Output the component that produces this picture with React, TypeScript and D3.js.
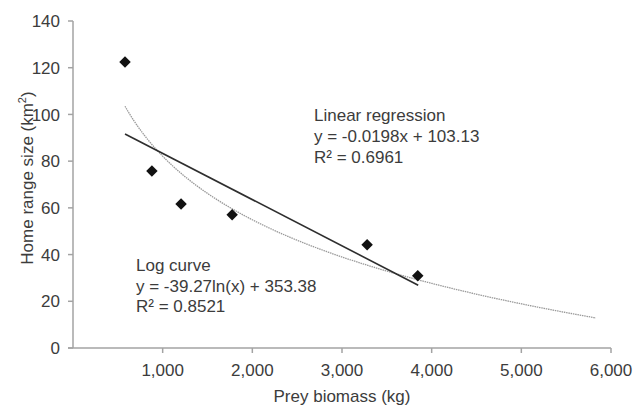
import { useMemo } from "react";
import * as d3 from "d3";

const preyBiomass = [580, 880, 1205, 1775, 3280, 3845];
const homeRange = [122.4, 75.8, 61.7, 57.0, 44.2, 30.9];

// fitted trendlines as printed on the chart
const linearCoef = [-0.0198, 103.13];
const logCoef = [-39.27, 353.38];
const linearSpan = [580, 3850];
const logSpan = [580, 5850];

const xTicks = [1000, 2000, 3000, 4000, 5000, 6000];
const yTicks = [0, 20, 40, 60, 80, 100, 120, 140];

const linearLabel = ["Linear regression", "y = -0.0198x + 103.13", "R² = 0.6961"];
const logLabel = ["Log curve", "y = -39.27ln(x) + 353.38", "R² = 0.8521"];

const W = 643;
const H = 407;
const font = "'Liberation Sans', Arial, sans-serif";

export default function App() {
  const x = d3.scaleLinear().domain([0, 6000]).range([73, 611]);
  const y = d3.scaleLinear().domain([0, 140]).range([348, 21]);

  const { linPath, logPath } = useMemo(() => {
    const line = d3
      .line<[number, number]>()
      .x((d) => x(d[0]))
      .y((d) => y(d[1]));
    const lin: [number, number][] = linearSpan.map((v) => [v, linearCoef[0] * v + linearCoef[1]]);
    const logPts: [number, number][] = d3
      .range(logSpan[0], logSpan[1] + 1, 25)
      .map((v) => [v, logCoef[0] * Math.log(v) + logCoef[1]]);
    return { linPath: line(lin) ?? "", logPath: line(logPts) ?? "" };
  }, []);

  const diamond = d3.symbol(d3.symbolSquare, 66)() ?? "";

  return (
    <svg
      width={W}
      height={H}
      viewBox={`0 0 ${W} ${H}`}
      style={{ position: "absolute", left: 0, top: 0, background: "#fff" }}
      fontFamily={font}
    >
      {/* axes */}
      <g stroke="#a3a3a3" strokeWidth={1.5} fill="none">
        <line x1={x(0)} x2={x(0)} y1={y(140)} y2={y(0)} />
        <line x1={x(0) - 5} x2={x(6000)} y1={y(0)} y2={y(0)} />
        {yTicks.map((t) => (
          <line key={t} x1={x(0) - 5} x2={x(0)} y1={y(t)} y2={y(t)} />
        ))}
        {xTicks.map((t) => (
          <line key={t} x1={x(t)} x2={x(t)} y1={y(0)} y2={y(0) + 5} />
        ))}
      </g>
      <g fill="#3c3c3c" fontSize={17}>
        {yTicks.map((t) => (
          <text key={t} x={x(0) - 13} y={y(t)} dy="0.36em" textAnchor="end">
            {t}
          </text>
        ))}
        {xTicks.map((t) => (
          <text key={t} x={x(t)} y={y(0) + 28} textAnchor="middle">
            {d3.format(",")(t)}
          </text>
        ))}
        <text x={342} y={402} textAnchor="middle">
          Prey biomass (kg)
        </text>
        <text transform={`translate(33,${178}) rotate(-90)`} textAnchor="middle">
          Home range size (km
          <tspan fontSize={11} dy={-7}>2</tspan>
          <tspan dy={7}>)</tspan>
        </text>
      </g>

      {/* trendlines */}
      <path d={logPath} fill="none" stroke="#9a9a9a" strokeWidth={1.3} strokeDasharray="1.5 0.8" />
      <path d={linPath} fill="none" stroke="#2e2e2e" strokeWidth={1.6} />

      {/* points */}
      {preyBiomass.map((v, i) => (
        <path
          key={v}
          d={diamond}
          transform={`translate(${x(v)},${y(homeRange[i])}) rotate(45)`}
          fill="#111"
        />
      ))}

      {/* equations */}
      <g fill="#3c3c3c" fontSize={17}>
        {linearLabel.map((s, i) => (
          <text key={s} x={314} y={121 + i * 21}>
            {s}
          </text>
        ))}
        {logLabel.map((s, i) => (
          <text key={s} x={136} y={271 + i * 20.5}>
            {s}
          </text>
        ))}
      </g>
    </svg>
  );
}
